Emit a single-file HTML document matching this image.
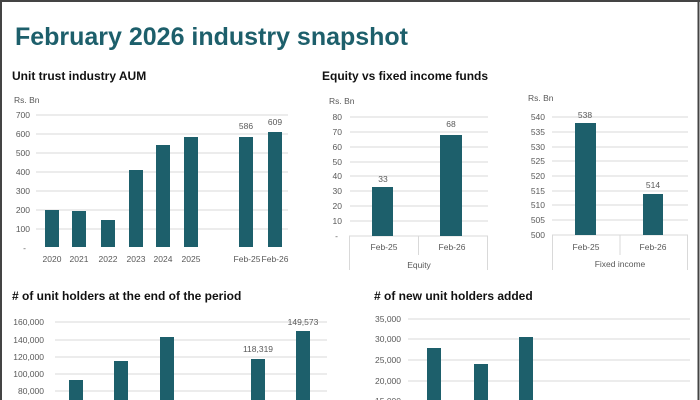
<!DOCTYPE html>
<html><head><meta charset="utf-8"><style>
html,body{margin:0;padding:0;background:#fff;}
svg{display:block;}
text{font-family:"Liberation Sans",sans-serif;}
.t{fill:#595959;font-size:8.5px;}
.h{fill:#111;font-size:12px;font-weight:bold;}
.g{stroke:#d9d9d9;stroke-width:1;}
.b{fill:#1d5f6b;}
</style></head><body>
<svg width="700" height="400" viewBox="0 0 700 400" xmlns="http://www.w3.org/2000/svg">
<rect x="0" y="0" width="700" height="400" fill="#fff"/>
<line x1="0" y1="1" x2="700" y2="1" stroke="#444" stroke-width="2"/>
<line x1="1" y1="0" x2="1" y2="400" stroke="#444" stroke-width="2"/>
<line x1="698.5" y1="0" x2="698.5" y2="400" stroke="#444" stroke-width="2"/>
<text x="15" y="45" textLength="393" lengthAdjust="spacingAndGlyphs" style="font-size:25px;font-weight:bold;fill:#1d5f6b">February 2026 industry snapshot</text>

<!-- Chart 1 -->
<text class="h" x="12" y="80">Unit trust industry AUM</text>
<text class="t" x="14" y="103">Rs. Bn</text>
<g class="g">
<line x1="36" y1="115" x2="288" y2="115"/><line x1="36" y1="134" x2="288" y2="134"/><line x1="36" y1="153" x2="288" y2="153"/><line x1="36" y1="172" x2="288" y2="172"/><line x1="36" y1="191" x2="288" y2="191"/><line x1="36" y1="210" x2="288" y2="210"/><line x1="36" y1="229" x2="288" y2="229"/>
</g>
<g class="t" text-anchor="end">
<text x="30" y="118">700</text><text x="30" y="137">600</text><text x="30" y="156">500</text><text x="30" y="175">400</text><text x="30" y="194">300</text><text x="30" y="213">200</text><text x="30" y="232">100</text><text x="26" y="251">-</text>
</g>
<g class="b">
<rect x="45" y="210" width="14" height="37"/>
<rect x="72" y="211" width="14" height="36"/>
<rect x="101" y="220" width="14" height="27"/>
<rect x="129" y="170" width="14" height="77"/>
<rect x="156" y="145" width="14" height="102"/>
<rect x="184" y="137" width="14" height="110"/>
<rect x="239" y="137" width="14" height="110"/>
<rect x="268" y="132" width="14" height="115"/>
</g>
<g class="t" text-anchor="middle">
<text x="246" y="129">586</text><text x="275" y="125">609</text>
<text x="52" y="262">2020</text><text x="79" y="262">2021</text><text x="108" y="262">2022</text><text x="136" y="262">2023</text><text x="163" y="262">2024</text><text x="191" y="262">2025</text><text x="247" y="262">Feb-25</text><text x="275" y="262">Feb-26</text>
</g>

<!-- Chart 2 -->
<text class="h" x="322" y="80">Equity vs fixed income funds</text>
<text class="t" x="329" y="104">Rs. Bn</text>
<g class="g">
<line x1="350" y1="117" x2="488" y2="117"/><line x1="350" y1="132" x2="488" y2="132"/><line x1="350" y1="147" x2="488" y2="147"/><line x1="350" y1="162" x2="488" y2="162"/><line x1="350" y1="176" x2="488" y2="176"/><line x1="350" y1="191" x2="488" y2="191"/><line x1="350" y1="206" x2="488" y2="206"/><line x1="350" y1="221" x2="488" y2="221"/>
<line x1="349" y1="236" x2="488" y2="236"/>
<line x1="349.5" y1="236" x2="349.5" y2="270"/><line x1="487.5" y1="236" x2="487.5" y2="270"/><line x1="418.5" y1="236" x2="418.5" y2="255"/>
</g>
<g class="t" text-anchor="end">
<text x="342" y="120">80</text><text x="342" y="135">70</text><text x="342" y="150">60</text><text x="342" y="165">50</text><text x="342" y="179">40</text><text x="342" y="194">30</text><text x="342" y="209">20</text><text x="342" y="224">10</text><text x="338" y="239">-</text>
</g>
<g class="b"><rect x="372" y="187" width="21" height="49"/><rect x="440" y="135" width="22" height="101"/></g>
<g class="t" text-anchor="middle">
<text x="383" y="182">33</text><text x="451" y="127">68</text>
<text x="384" y="250">Feb-25</text><text x="452" y="250">Feb-26</text><text x="419" y="268">Equity</text>
</g>

<!-- Chart 3 -->
<text class="t" x="528" y="101">Rs. Bn</text>
<g class="g">
<line x1="552" y1="117" x2="688" y2="117"/><line x1="552" y1="132" x2="688" y2="132"/><line x1="552" y1="147" x2="688" y2="147"/><line x1="552" y1="161" x2="688" y2="161"/><line x1="552" y1="176" x2="688" y2="176"/><line x1="552" y1="191" x2="688" y2="191"/><line x1="552" y1="205" x2="688" y2="205"/><line x1="552" y1="220" x2="688" y2="220"/>
<line x1="552" y1="235" x2="688" y2="235"/>
<line x1="552.5" y1="235" x2="552.5" y2="270"/><line x1="687.5" y1="235" x2="687.5" y2="270"/><line x1="620" y1="235" x2="620" y2="255"/>
</g>
<g class="t" text-anchor="end">
<text x="545" y="120">540</text><text x="545" y="135">535</text><text x="545" y="150">530</text><text x="545" y="164">525</text><text x="545" y="179">520</text><text x="545" y="194">515</text><text x="545" y="208">510</text><text x="545" y="223">505</text><text x="545" y="238">500</text>
</g>
<g class="b"><rect x="575" y="123" width="21" height="112"/><rect x="643" y="194" width="20" height="41"/></g>
<g class="t" text-anchor="middle">
<text x="585" y="118">538</text><text x="653" y="188">514</text>
<text x="586" y="250">Feb-25</text><text x="653" y="250">Feb-26</text><text x="620" y="267">Fixed income</text>
</g>

<!-- Chart 4 -->
<text class="h" x="12" y="300"># of unit holders at the end of the period</text>
<g class="g">
<line x1="55" y1="322" x2="327" y2="322"/><line x1="55" y1="340" x2="327" y2="340"/><line x1="55" y1="357" x2="327" y2="357"/><line x1="55" y1="374" x2="327" y2="374"/><line x1="55" y1="391" x2="327" y2="391"/>
</g>
<g class="t" text-anchor="end">
<text x="44" y="325">160,000</text><text x="44" y="343">140,000</text><text x="44" y="360">120,000</text><text x="44" y="377">100,000</text><text x="44" y="394">80,000</text>
</g>
<g class="b">
<rect x="69" y="380" width="14" height="30"/><rect x="114" y="361" width="14" height="50"/><rect x="160" y="337" width="14" height="70"/><rect x="251" y="359" width="14" height="50"/><rect x="296" y="331" width="14" height="80"/>
</g>
<g class="t" text-anchor="middle"><text x="258" y="352">118,319</text><text x="303" y="325">149,573</text></g>

<!-- Chart 5 -->
<text class="h" x="374" y="300"># of new unit holders added</text>
<g class="g">
<line x1="408" y1="319" x2="690" y2="319"/><line x1="408" y1="339" x2="690" y2="339"/><line x1="408" y1="360" x2="690" y2="360"/><line x1="408" y1="381" x2="690" y2="381"/>
</g>
<g class="t" text-anchor="end">
<text x="401" y="322">35,000</text><text x="401" y="342">30,000</text><text x="401" y="363">25,000</text><text x="401" y="384">20,000</text><text x="401" y="404">15,000</text>
</g>
<g class="b"><rect x="427" y="348" width="14" height="60"/><rect x="474" y="364" width="14" height="50"/><rect x="519" y="337" width="14" height="70"/></g>
</svg>
</body></html>
